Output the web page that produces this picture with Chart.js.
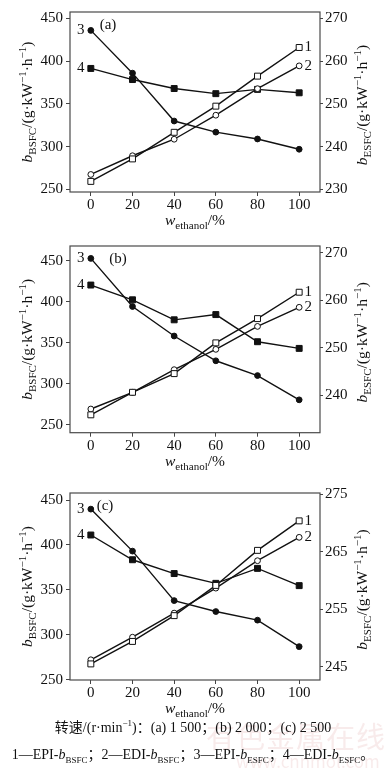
<!DOCTYPE html>
<html>
<head>
<meta charset="utf-8">
<script src="https://cdn.jsdelivr.net/npm/chart.js@4.4.1/dist/chart.umd.min.js"></script>
<style>
  body { margin: 0; background: #fff; }
  #wrap { position: relative; width: 386px; height: 769px; overflow: hidden; font-family: 'Liberation Serif', 'Noto Sans CJK SC', serif; color: #111; }
  canvas { position: absolute; left: 0; }
  .cap { position: absolute; left: 0; width: 386px; text-align: center; font-size: 14px; white-space: nowrap; line-height: 18px; }
  .cap sub, .cap sup { font-size: 9px; line-height: 0; }
  .wm { position: absolute; white-space: nowrap; color: rgba(205, 110, 110, 0.14); font-family: 'Noto Sans CJK SC', sans-serif; }
</style>
</head>
<body>
<div id="wrap">
  <canvas id="chartA" width="386" height="232" style="top:0px"></canvas>
  <canvas id="chartB" width="386" height="240" style="top:234px"></canvas>
  <canvas id="chartC" width="386" height="240" style="top:481px"></canvas>
  <div class="wm" style="left:206px; top:714px; font-size:29px; letter-spacing:1px;">有色金属在线</div>
  <div class="wm" style="left:236px; top:748px; font-size:17px;">www.cnnmol.com</div>
  <div class="cap" style="top:719px">转速/(r·min<sup>−1</sup>)：(a) 1 500；(b) 2 000；(c) 2 500</div>
  <div class="cap" style="top:746px">1—EPI-<i>b</i><sub>BSFC</sub>；2—EDI-<i>b</i><sub>BSFC</sub>；3—EPI-<i>b</i><sub>ESFC</sub>；4—EDI-<i>b</i><sub>ESFC</sub>。</div>
</div>
<script>
// ethanol mass fraction, %
const ethanol = [0, 20, 40, 60, 80, 100];
const xTicks = [0, 20, 40, 60, 80, 100];
const bsfcTicks = [250, 300, 350, 400, 450];
const esfcTicksA = [230, 240, 250, 260, 270];
const esfcTicksB = [240, 250, 260, 270];
const esfcTicksC = [245, 255, 265, 275];

// (a) 1 500 r/min
const epiBsfcA = [259.4, 285.7, 316.8, 347.4, 382.5, 416.0];
const ediBsfcA = [267.5, 289.4, 308.7, 336.8, 367.8, 394.5];
const epiEsfcA = [267.2, 257.2, 246.0, 243.4, 241.8, 239.4];
const ediEsfcA = [258.3, 255.7, 253.6, 252.4, 253.4, 252.6];

// (b) 2 000 r/min
const epiBsfcB = [262.2, 289.7, 312.5, 350.0, 379.6, 411.8];
const ediBsfcB = [269.3, 289.7, 317.3, 342.1, 370.1, 393.4];
const epiEsfcB = [268.8, 258.7, 252.5, 247.3, 244.2, 239.1];
const ediEsfcB = [263.2, 260.1, 255.9, 257.0, 251.3, 249.9];

// (c) 2 500 r/min
const epiBsfcC = [267.7, 292.7, 321.4, 355.0, 394.0, 426.8];
const ediBsfcC = [272.3, 297.4, 324.2, 352.0, 382.5, 408.5];
const epiEsfcC = [272.4, 265.1, 256.5, 254.6, 253.1, 248.5];
const ediEsfcC = [267.9, 263.6, 261.2, 259.5, 262.1, 259.1];

const SERIF = "'Liberation Serif', 'Times New Roman', serif";
const INK = '#111';

function drawRich(ctx, parts, x, y, rot, size) {
  const fontFor = p => `${p.it ? 'italic ' : ''}${p.sub || p.sup ? Math.round(size * 0.68) : size}px ${SERIF}`;
  ctx.save();
  ctx.translate(x, y);
  ctx.rotate(rot);
  ctx.fillStyle = INK;
  ctx.textBaseline = 'alphabetic';
  let total = 0;
  parts.forEach(p => { ctx.font = fontFor(p); total += ctx.measureText(p.t).width; });
  let cx = -total / 2;
  parts.forEach(p => {
    ctx.font = fontFor(p);
    const dy = p.sub ? size * 0.28 : p.sup ? -size * 0.38 : 0;
    ctx.fillText(p.t, cx, dy + size * 0.33);
    cx += ctx.measureText(p.t).width;
  });
  ctx.restore();
}

const unitParts = [{ t: '/(g·kW' }, { t: '−1', sup: true }, { t: '·h' }, { t: '−1', sup: true }, { t: ')' }];
const bsfcTitle = [{ t: 'b', it: true }, { t: 'BSFC', sub: true }, ...unitParts];
const esfcTitle = [{ t: 'b', it: true }, { t: 'ESFC', sub: true }, ...unitParts];
const xTitle = [{ t: 'w', it: true }, { t: 'ethanol', sub: true }, { t: '/%' }];

const decorPlugin = {
  id: 'decor',
  beforeDatasetsDraw(chart) {
    const { ctx, chartArea: a } = chart;
    ctx.save();
    ctx.strokeStyle = '#4a4a4a';
    ctx.lineWidth = 1.2;
    ctx.strokeRect(a.left, a.top, a.right - a.left, a.bottom - a.top);
    ctx.restore();
  },
  afterDraw(chart, args, opts) {
    const { ctx, chartArea: a } = chart;
    const midY = (a.top + a.bottom) / 2;
    drawRich(ctx, bsfcTitle, 27, midY, -Math.PI / 2, 15.5);
    drawRich(ctx, esfcTitle, 362, midY + 3, -Math.PI / 2, 15.5);
    drawRich(ctx, xTitle, (a.left + a.right) / 2, a.bottom + 28, 0, 15.5);

    ctx.save();
    ctx.fillStyle = INK;
    ctx.font = `15px ${SERIF}`;
    ctx.textBaseline = 'middle';
    ctx.textAlign = 'center';
    ctx.fillText(opts.tag, a.left + opts.tagDx, a.top + 13);
    const pt = (ds, i) => chart.getDatasetMeta(ds).data[i];
    const last = ethanol.length - 1;
    ctx.fillText('1', pt(0, last).x + 9, pt(0, last).y);
    ctx.fillText('2', pt(1, last).x + 9, pt(1, last).y);
    ctx.fillText('3', pt(2, 0).x - 10, pt(2, 0).y);
    ctx.fillText('4', pt(3, 0).x - 10, pt(3, 0).y);
    ctx.restore();
  }
};

function tickAxis(values, min, max, position, width, padding, tickLength) {
  return {
    type: 'linear',
    position,
    min,
    max,
    afterBuildTicks: s => { s.ticks = values.map(v => ({ value: v })); },
    afterFit: s => { s.width = width; },
    grid: { drawOnChartArea: false, tickLength, color: '#444', lineWidth: 1 },
    border: { display: false },
    ticks: { font: { family: SERIF, size: 15 }, color: INK, padding }
  };
}

function series(data, axis, style, filled, radius) {
  return {
    data: ethanol.map((x, i) => ({ x, y: data[i] })),
    yAxisID: axis,
    borderColor: INK,
    borderWidth: 1.4,
    pointStyle: style,
    pointRadius: radius,
    pointBorderWidth: 1,
    pointBorderColor: INK,
    pointBackgroundColor: filled ? INK : '#fff',
    tension: 0
  };
}

function makePanel(canvasId, p) {
  const canvas = document.getElementById(canvasId);
  return new Chart(canvas, {
    type: 'line',
    data: {
      datasets: [
        series(p.epiBsfc, 'y', 'rect', false, 4.2),
        series(p.ediBsfc, 'y', 'circle', false, 2.9),
        series(p.epiEsfc, 'y1', 'circle', true, 2.9),
        series(p.ediEsfc, 'y1', 'rect', true, 4.2)
      ]
    },
    options: {
      responsive: false,
      animation: false,
      devicePixelRatio: 1,
      layout: { padding: { top: p.areaTop, left: 0, right: 0, bottom: 0 } },
      plugins: {
        legend: { display: false },
        tooltip: { enabled: false },
        decor: { tag: p.tag, tagDx: p.tagDx }
      },
      scales: {
        x: {
          type: 'linear',
          min: -10,
          max: 110,
          afterBuildTicks: s => { s.ticks = xTicks.map(v => ({ value: v })); },
          afterFit: s => { s.height = canvas.height - p.areaBottom; },
          grid: { drawOnChartArea: false, tickLength: 4, color: '#444' },
          border: { display: false },
          ticks: { font: { family: SERIF, size: 15 }, color: INK, padding: 0, maxRotation: 0 }
        },
        y: tickAxis(bsfcTicks, p.left[0], p.left[1], 'left', 70, 3, 4),
        y1: tickAxis(p.rightTicks, p.right[0], p.right[1], 'right', 66, 2, 3)
      }
    },
    plugins: [decorPlugin]
  });
}

// area positions are relative to each canvas
makePanel('chartA', {
  tag: '(a)', tagDx: 38, areaTop: 0.6, areaBottom: 192,
  left: [247, 457.5], right: [229.4, 271.5], rightTicks: esfcTicksA,
  epiBsfc: epiBsfcA, ediBsfc: ediBsfcA, epiEsfc: epiEsfcA, ediEsfc: ediEsfcA
});
makePanel('chartB', {
  tag: '(b)', tagDx: 48, areaTop: 6, areaBottom: 198.7,
  left: [240.4, 468.2], right: [232.2, 271.4], rightTicks: esfcTicksB,
  epiBsfc: epiBsfcB, ediBsfc: ediBsfcB, epiEsfc: epiEsfcB, ediEsfc: ediEsfcB
});
makePanel('chartC', {
  tag: '(c)', tagDx: 35, areaTop: 6.7, areaBottom: 199,
  left: [249.8, 457.8], right: [242.7, 275.2], rightTicks: esfcTicksC,
  epiBsfc: epiBsfcC, ediBsfc: ediBsfcC, epiEsfc: epiEsfcC, ediEsfc: ediEsfcC
});
</script>
</body>
</html>
